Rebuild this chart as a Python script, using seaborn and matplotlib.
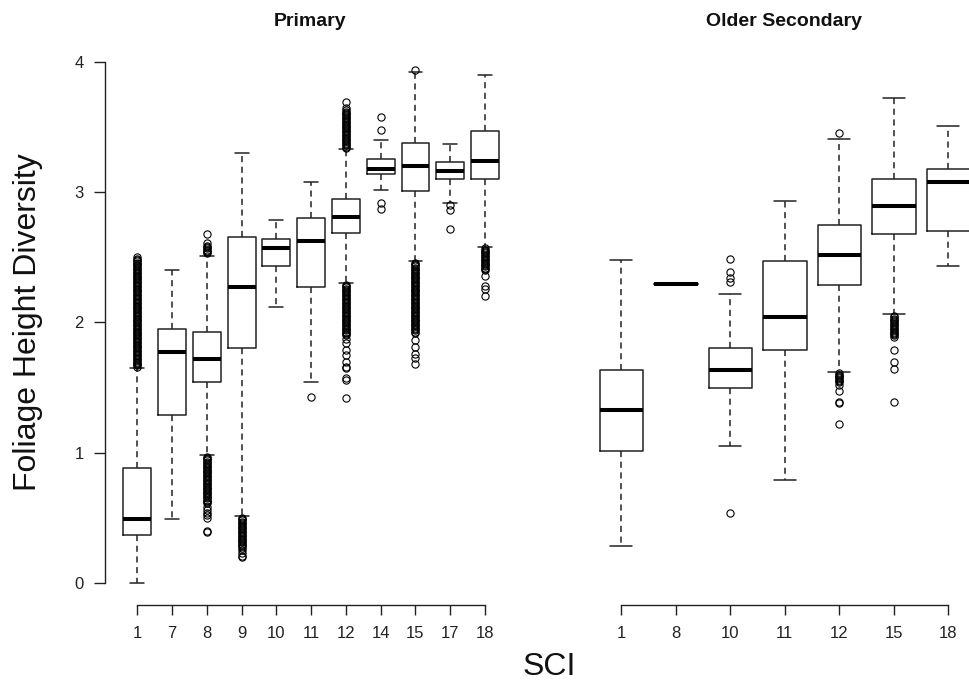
import matplotlib
matplotlib.use("Agg")
import matplotlib.pyplot as plt
import seaborn as sns

# ---------------- data ----------------
primary_sci = ["1", "7", "8", "9", "10", "11", "12", "14", "15", "17", "18"]
primary_whislo = [0.00, 0.49, 0.98, 0.51, 2.12, 1.545, 2.30, 3.02, 2.475, 2.92, 2.58]
primary_q1 = [0.37, 1.29, 1.545, 1.80, 2.43, 2.27, 2.685, 3.14, 3.01, 3.105, 3.105]
primary_med = [0.49, 1.77, 1.72, 2.27, 2.57, 2.625, 2.81, 3.18, 3.20, 3.165, 3.24]
primary_q3 = [0.885, 1.95, 1.93, 2.66, 2.64, 2.80, 2.95, 3.255, 3.38, 3.23, 3.47]
primary_whishi = [1.65, 2.40, 2.51, 3.30, 2.79, 3.08, 3.335, 3.40, 3.925, 3.37, 3.90]
primary_fliers = [
    # SCI 1
    [1.66, 1.67, 1.68, 1.69, 1.70, 1.71, 1.72, 1.73, 1.74, 1.75,
     1.76, 1.77, 1.78, 1.79, 1.80, 1.81, 1.82, 1.83, 1.84, 1.85,
     1.86, 1.87, 1.88, 1.89, 1.90, 1.91, 1.92, 1.93, 1.94, 1.95,
     1.96, 1.97, 1.98, 1.99, 2.00, 2.01, 2.02, 2.03, 2.04, 2.05,
     2.06, 2.07, 2.08, 2.09, 2.10, 2.11, 2.12, 2.13, 2.14, 2.15,
     2.16, 2.17, 2.18, 2.19, 2.20, 2.21, 2.22, 2.23, 2.24, 2.25,
     2.26, 2.27, 2.28, 2.29, 2.30, 2.31, 2.32, 2.33, 2.34, 2.35,
     2.36, 2.37, 2.38, 2.39, 2.40, 2.41, 2.42, 2.43, 2.44, 2.45,
     2.46, 2.47, 2.48, 2.49, 2.50],
    # SCI 7
    [],
    # SCI 8
    [2.53, 2.54, 2.55, 2.56, 2.57, 2.58, 2.59, 2.61, 2.68,
     0.97, 0.96, 0.95, 0.94, 0.93, 0.92, 0.91, 0.90, 0.89, 0.88,
     0.87, 0.86, 0.85, 0.84, 0.83, 0.82, 0.81, 0.80, 0.79, 0.78,
     0.77, 0.76, 0.75, 0.74, 0.73, 0.72, 0.71, 0.70, 0.69, 0.68,
     0.67, 0.66, 0.65, 0.64, 0.63, 0.62, 0.61, 0.585, 0.56, 0.54,
     0.52, 0.50, 0.40, 0.39],
    # SCI 9
    [0.50, 0.49, 0.48, 0.47, 0.46, 0.45, 0.44, 0.43, 0.42, 0.41,
     0.40, 0.39, 0.38, 0.37, 0.36, 0.35, 0.34, 0.33, 0.32, 0.31,
     0.30, 0.29, 0.28, 0.27, 0.25, 0.23, 0.21, 0.195],
    # SCI 10
    [],
    # SCI 11
    [1.43],
    # SCI 12
    [3.34, 3.35, 3.36, 3.37, 3.38, 3.39, 3.40, 3.41, 3.42, 3.43,
     3.44, 3.45, 3.46, 3.47, 3.48, 3.49, 3.50, 3.51, 3.52, 3.53,
     3.54, 3.55, 3.56, 3.57, 3.58, 3.59, 3.60, 3.61, 3.62, 3.63,
     3.645, 3.69,
     2.29, 2.28, 2.27, 2.26, 2.25, 2.24, 2.23, 2.22, 2.21, 2.20,
     2.19, 2.18, 2.17, 2.16, 2.15, 2.14, 2.13, 2.12, 2.11, 2.10,
     2.09, 2.08, 2.07, 2.06, 2.05, 2.04, 2.03, 2.02, 2.01, 2.00,
     1.99, 1.98, 1.97, 1.96, 1.95, 1.94, 1.93, 1.92, 1.91, 1.90,
     1.87, 1.84, 1.79, 1.75, 1.70, 1.66, 1.65, 1.57, 1.56, 1.42],
    # SCI 14
    [3.575, 3.475, 2.92, 2.87],
    # SCI 15
    [3.94,
     2.46, 2.45, 2.44, 2.43, 2.42, 2.41, 2.40, 2.39, 2.38, 2.37,
     2.36, 2.35, 2.34, 2.33, 2.32, 2.31, 2.30, 2.29, 2.28, 2.27,
     2.26, 2.25, 2.24, 2.23, 2.22, 2.21, 2.20, 2.19, 2.18, 2.17,
     2.16, 2.15, 2.14, 2.13, 2.12, 2.11, 2.10, 2.09, 2.08, 2.07,
     2.06, 2.05, 2.04, 2.03, 2.02, 2.01, 2.00, 1.99, 1.98, 1.97,
     1.96, 1.95, 1.94, 1.93, 1.92,
     1.865, 1.815, 1.76, 1.725, 1.68],
    # SCI 17
    [2.90, 2.86, 2.715],
    # SCI 18
    [2.57, 2.56, 2.55, 2.54, 2.53, 2.52, 2.51, 2.50, 2.49, 2.48,
     2.47, 2.46, 2.45, 2.44, 2.43, 2.42, 2.41, 2.40,
     2.36, 2.28, 2.26, 2.20],
]

secondary_sci = ["1", "8", "10", "11", "12", "15", "18"]
secondary_whislo = [0.28, 2.295, 1.05, 0.79, 1.62, 2.065, 2.435]
secondary_q1 = [1.01, 2.295, 1.50, 1.79, 2.29, 2.68, 2.70]
secondary_med = [1.33, 2.295, 1.635, 2.04, 2.52, 2.895, 3.075]
secondary_q3 = [1.635, 2.295, 1.80, 2.47, 2.745, 3.10, 3.175]
secondary_whishi = [2.48, 2.295, 2.22, 2.93, 3.41, 3.725, 3.51]
secondary_fliers = [
    [],
    [],
    [2.49, 2.39, 2.34, 2.31, 0.54],
    [],
    [3.455, 1.61, 1.60, 1.59, 1.58, 1.57, 1.56, 1.55, 1.54, 1.52,
     1.47, 1.39, 1.38, 1.22],
    [2.05, 2.04, 2.03, 2.02, 2.01, 2.00, 1.99, 1.98, 1.97, 1.96,
     1.95, 1.94, 1.93, 1.92, 1.91, 1.90, 1.89,
     1.79, 1.70, 1.645, 1.39],
    [],
]

panel_titles = ["Primary", "Older Secondary"]
y_label = "Foliage Height Diversity"
x_label = "SCI"
y_ticks = [0, 1, 2, 3, 4]

# ---------------- style ----------------
sns.set_theme(style="white")
plt.rcParams["font.family"] = ["Liberation Sans", "DejaVu Sans"]

W, H = 969, 686
fig = plt.figure(figsize=(W / 100, H / 100), dpi=100)
fig.patch.set_facecolor("white")

bottom = (H - 605) / H
height = (605 - 49) / H
ax1 = fig.add_axes([104.6 / W, bottom, (517.7 - 104.6) / W, height])
ax2 = fig.add_axes([578.8 / W, bottom, (W - 578.8) / W, height])


def make_stats(labels, wlo, q1, med, q3, whi, fl):
    out = []
    for i, lab in enumerate(labels):
        out.append(dict(label=lab, whislo=wlo[i], q1=q1[i], med=med[i],
                        q3=q3[i], whishi=whi[i], fliers=fl[i]))
    return out


box_kw = dict(
    widths=0.8,
    capwidths=0.4,
    showfliers=True,
    patch_artist=False,
    boxprops=dict(color="#222222", linewidth=1.1),
    whiskerprops=dict(color="#222222", linewidth=1.1, linestyle=(0, (4, 3))),
    capprops=dict(color="#222222", linewidth=1.1),
    medianprops=dict(color="black", linewidth=2.9, solid_capstyle="butt"),
    flierprops=dict(marker="o", markersize=5.2, markerfacecolor="none",
                    markeredgecolor="black", markeredgewidth=0.8, linestyle="none"),
)

stats1 = make_stats(primary_sci, primary_whislo, primary_q1, primary_med,
                    primary_q3, primary_whishi, primary_fliers)
stats2 = make_stats(secondary_sci, secondary_whislo, secondary_q1, secondary_med,
                    secondary_q3, secondary_whishi, secondary_fliers)

ax1.bxp(stats1, positions=range(1, len(stats1) + 1), **box_kw)
ax2.bxp(stats2, positions=range(1, len(stats2) + 1), **box_kw)

ax1.set_xlim(0.06, len(stats1) + 0.94)
ax2.set_xlim(0.22, 1 + (W - 621.3) / 54.5)
for ax in (ax1, ax2):
    ax.set_ylim(-0.17, 4.1)
    ax.set_facecolor("white")
    ax.grid(False)
    for s in ("top", "right"):
        ax.spines[s].set_visible(False)
    ax.spines["bottom"].set_color("#222222")
    ax.spines["bottom"].set_linewidth(1.0)
    ax.tick_params(axis="x", direction="out", length=7, width=1.0, color="#222222",
                   labelsize=12, pad=8, bottom=True, labelcolor="#222222")

ax1.spines["bottom"].set_bounds(1, len(stats1))
ax2.spines["bottom"].set_bounds(1, len(stats2))

ax1.set_yticks(y_ticks)
ax1.set_yticklabels([str(t) for t in y_ticks])
ax1.spines["left"].set_bounds(0, 4)
ax1.spines["left"].set_color("#222222")
ax1.spines["left"].set_linewidth(1.0)
ax1.tick_params(axis="y", direction="out", length=8, width=1.0, color="#222222",
                labelsize=12, pad=7, left=True, labelcolor="#222222")

ax2.spines["left"].set_visible(False)
ax2.set_yticks([])

fig.text(310 / W, 1 - 22 / H, panel_titles[0], ha="center", va="center",
         fontsize=14, fontweight="bold", color="#111111")
fig.text(784 / W, 1 - 22 / H, panel_titles[1], ha="center", va="center",
         fontsize=14, fontweight="bold", color="#111111")
fig.text(28 / W, 1 - 322 / H, y_label, rotation=90, ha="center", va="center",
         fontsize=23, color="#111111")
fig.text(549 / W, 1 - 667 / H, x_label, ha="center", va="center",
         fontsize=23, color="#111111")

fig.savefig("out.png", dpi=100, facecolor="white")
